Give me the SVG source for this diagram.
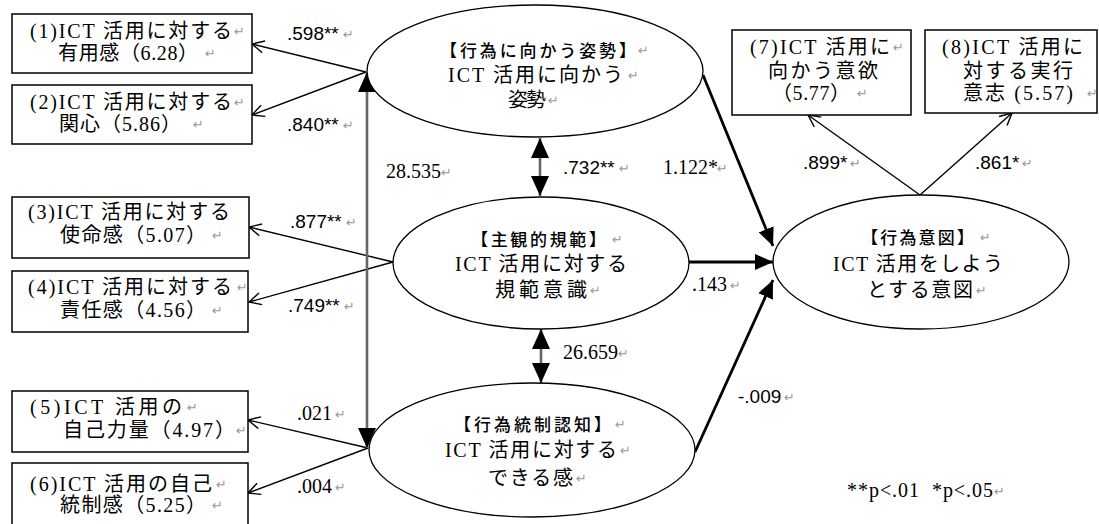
<svg xmlns="http://www.w3.org/2000/svg" width="1099" height="524" viewBox="0 0 1099 524">
<style>
.box{fill:#fff;stroke:#000;stroke-width:1.5}
.ell{fill:#fff;stroke:#000;stroke-width:1.3}
.t{font-family:"Liberation Serif","Noto Sans CJK JP",serif;font-size:20px;fill:#000}
.h{font-family:"Noto Sans CJK JP",sans-serif;font-size:17px;font-weight:500;fill:#000}
.n{font-family:"Liberation Sans",sans-serif;font-size:19px;fill:#000}
.ns{font-family:"Liberation Serif",serif;font-size:20px;fill:#000}
.pm{font-family:"DejaVu Sans",sans-serif;font-size:13px;fill:#999}
.thin{stroke:#000;stroke-width:1.4;fill:none}
.thick{stroke:#000;stroke-width:2.8;fill:none}
.gray{stroke:#666;stroke-width:2.6;fill:none}
</style>
<defs>
<marker id="open" markerUnits="userSpaceOnUse" markerWidth="16" markerHeight="16" refX="13" refY="7" orient="auto" viewBox="0 0 16 16">
<path d="M1,1 L13,7 L1,13" fill="none" stroke="#000" stroke-width="1.4"/>
</marker>
<marker id="tri" markerUnits="userSpaceOnUse" markerWidth="20" markerHeight="18" refX="20" refY="9" orient="auto-start-reverse" viewBox="0 0 20 18">
<path d="M0,0 L20,9 L0,18 z" fill="#000"/>
</marker>
<marker id="solid" markerUnits="userSpaceOnUse" markerWidth="18" markerHeight="16" refX="18" refY="8" orient="auto" viewBox="0 0 18 16">
<path d="M0,0 L18,8 L0,16 z" fill="#000"/>
</marker>
</defs>

<g id="connectors">
<line class="thin" x1="366" y1="72" x2="252" y2="44" marker-end="url(#open)"/>
<line class="thin" x1="366" y1="72" x2="252" y2="115" marker-end="url(#open)"/>
<line class="thin" x1="393" y1="262" x2="249" y2="227" marker-end="url(#open)"/>
<line class="thin" x1="393" y1="262" x2="249" y2="302" marker-end="url(#open)"/>
<line class="thin" x1="368" y1="448" x2="248" y2="420" marker-end="url(#open)"/>
<line class="thin" x1="368" y1="448" x2="248" y2="493" marker-end="url(#open)"/>
<line class="gray" x1="367" y1="72" x2="367" y2="448" marker-start="url(#tri)" marker-end="url(#tri)"/>
<line class="gray" x1="540" y1="138" x2="540" y2="196" marker-start="url(#tri)" marker-end="url(#tri)"/>
<line class="gray" x1="541" y1="329" x2="541" y2="383" marker-start="url(#tri)" marker-end="url(#tri)"/>
<line class="thick" x1="703" y1="75" x2="773" y2="246" marker-end="url(#solid)"/>
<line class="thick" x1="689" y1="262" x2="773" y2="262" marker-end="url(#solid)"/>
<line class="thick" x1="695" y1="452" x2="773" y2="280" marker-end="url(#solid)"/>
<line class="thin" x1="920" y1="195" x2="808" y2="115" marker-end="url(#open)"/>
<line class="thin" x1="920" y1="195" x2="1012" y2="113" marker-end="url(#open)"/>
</g>

<g id="box1">
<rect class="box" x="12" y="14" width="240" height="59"/>
<text class="t" x="30" y="38" textLength="202">(1)ICT 活用に対する</text><text class="pm" x="234" y="36">↵</text>
<text class="t" x="58" y="60" textLength="140">有用感（6.28）</text><text class="pm" x="205" y="58">↵</text>
</g>
<g id="box2">
<rect class="box" x="12" y="85" width="240" height="59"/>
<text class="t" x="30" y="109" textLength="202">(2)ICT 活用に対する</text><text class="pm" x="234" y="107">↵</text>
<text class="t" x="59" y="131" textLength="122">関心（5.86）</text><text class="pm" x="193" y="129">↵</text>
</g>
<g id="box3">
<rect class="box" x="12" y="197" width="237" height="61"/>
<text class="t" x="28" y="219" textLength="202">(3)ICT 活用に対する</text>
<text class="t" x="60" y="242" textLength="146">使命感（5.07）</text><text class="pm" x="212" y="240">↵</text>
</g>
<g id="box4">
<rect class="box" x="12" y="271" width="236" height="61"/>
<text class="t" x="28" y="294" textLength="204">(4)ICT 活用に対する</text><text class="pm" x="237" y="292">↵</text>
<text class="t" x="60" y="317" textLength="146">責任感（4.56）</text><text class="pm" x="212" y="315">↵</text>
</g>
<g id="box5">
<rect class="box" x="12" y="391" width="236" height="61"/>
<text class="t" x="30" y="414" textLength="152">(5)ICT 活用の</text><text class="pm" x="187" y="412">↵</text>
<text class="t" x="63" y="437" textLength="172">自己力量（4.97）</text><text class="pm" x="236" y="435">↵</text>
</g>
<g id="box6">
<rect class="box" x="12" y="463" width="236" height="70"/>
<text class="t" x="30" y="491" textLength="182">(6)ICT 活用の自己</text><text class="pm" x="216" y="489">↵</text>
<text class="t" x="60" y="512" textLength="146">統制感（5.25）</text><text class="pm" x="212" y="510">↵</text>
</g>
<g id="box7">
<rect class="box" x="732" y="30" width="179" height="85"/>
<text class="t" x="750" y="54" textLength="140">(7)ICT 活用に</text><text class="pm" x="893" y="52">↵</text>
<text class="t" x="768" y="78" textLength="110">向かう意欲</text>
<text class="t" x="772" y="100" textLength="78">（5.77）</text><text class="pm" x="857" y="98">↵</text>
</g>
<g id="box8">
<rect class="box" x="925" y="30" width="172" height="83"/>
<text class="t" x="942" y="54" textLength="141">(8)ICT 活用に</text>
<text class="t" x="963" y="78" textLength="110">対する実行</text>
<text class="t" x="963" y="100" textLength="110">意志 (5.57)</text><text class="pm" x="1087" y="98">↵</text>
</g>

<g id="attitude">
<ellipse class="ell" cx="535" cy="71" rx="168" ry="66"/>
<text class="h" x="440" y="57" textLength="196">【行為に向かう姿勢】</text><text class="pm" x="638" y="55">↵</text>
<text class="t" x="448" y="82" textLength="175">ICT 活用に向かう</text><text class="pm" x="628" y="80">↵</text>
<text class="t" x="508" y="107" textLength="38">姿勢</text><text class="pm" x="548" y="105">↵</text>
</g>
<g id="norm">
<ellipse class="ell" cx="541" cy="263" rx="148" ry="66"/>
<text class="h" x="471" y="246" textLength="135">【主観的規範】</text><text class="pm" x="612" y="244">↵</text>
<text class="t" x="455" y="271" textLength="172">ICT 活用に対する</text>
<text class="t" x="495" y="297" textLength="92">規範意識</text><text class="pm" x="590" y="295">↵</text>
</g>
<g id="control">
<ellipse class="ell" cx="532" cy="450" rx="163" ry="67"/>
<text class="h" x="454" y="431" textLength="157">【行為統制認知】</text><text class="pm" x="615" y="429">↵</text>
<text class="t" x="445" y="457" textLength="172">ICT 活用に対する</text><text class="pm" x="620" y="455">↵</text>
<text class="t" x="488" y="485" textLength="85">できる感</text><text class="pm" x="576" y="483">↵</text>
</g>
<g id="intention">
<ellipse class="ell" cx="921" cy="262" rx="148" ry="67"/>
<text class="h" x="861" y="244" textLength="113">【行為意図】</text><text class="pm" x="980" y="242">↵</text>
<text class="t" x="833" y="271" textLength="170">ICT 活用をしよう</text>
<text class="t" x="867" y="297" textLength="106">とする意図</text><text class="pm" x="976" y="295">↵</text>
</g>

<g id="labels">
<text class="n" x="287" y="40">.598**</text><text class="pm" x="343" y="39">↵</text>
<text class="n" x="287" y="131">.840**</text><text class="pm" x="343" y="130">↵</text>
<text class="n" x="290" y="228">.877**</text><text class="pm" x="346" y="227">↵</text>
<text class="n" x="288" y="312">.749**</text><text class="pm" x="344" y="311">↵</text>
<text class="ns" x="297" y="420">.021</text><text class="pm" x="335" y="419">↵</text>
<text class="ns" x="297" y="493">.004</text><text class="pm" x="335" y="492">↵</text>
<text class="ns" x="386" y="178">28.535</text><text class="pm" x="441" y="177">↵</text>
<text class="n" x="563" y="174">.732**</text><text class="pm" x="619" y="173">↵</text>
<text class="ns" x="663" y="174">1.122*</text><text class="pm" x="717" y="173">↵</text>
<text class="ns" x="692" y="291">.143</text><text class="pm" x="730" y="290">↵</text>
<text class="ns" x="563" y="359">26.659</text><text class="pm" x="618" y="358">↵</text>
<text class="n" x="738" y="403">-.009</text><text class="pm" x="784" y="402">↵</text>
<text class="n" x="803" y="169">.899*</text><text class="pm" x="850" y="168">↵</text>
<text class="n" x="975" y="169">.861*</text><text class="pm" x="1022" y="168">↵</text>
<text class="ns" x="847" y="497" textLength="146" xml:space="preserve">**p&lt;.01  *p&lt;.05</text><text class="pm" x="994" y="496">↵</text>
</g>
</svg>
